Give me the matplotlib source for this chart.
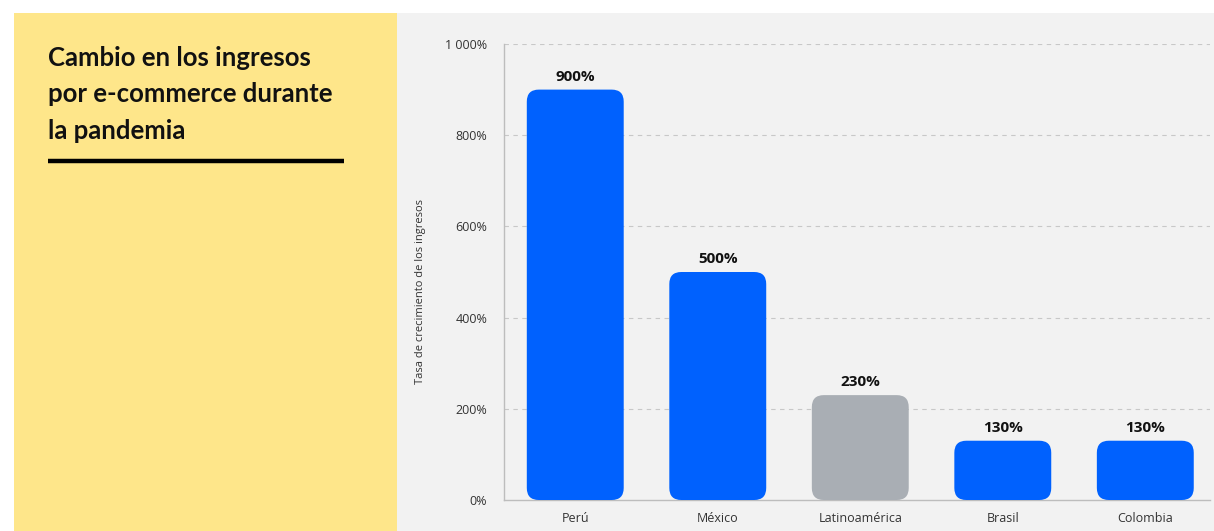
import matplotlib
matplotlib.use("Agg")
import matplotlib.pyplot as plt
from matplotlib.patches import FancyBboxPatch, Rectangle
from matplotlib.lines import Line2D

categories = ["Perú", "México", "Latinoamérica", "Brasil", "Colombia"]
values = [900, 500, 230, 130, 130]
value_labels = ["900%", "500%", "230%", "130%", "130%"]
bar_colors = ["#0061FE", "#0061FE", "#A9AEB4", "#0061FE", "#0061FE"]
yticks = [0, 200, 400, 600, 800, 1000]
ytick_labels = ["0%", "200%", "400%", "600%", "800%", "1 000%"]
title = "Cambio en los ingresos\npor e-commerce durante\nla pandemia"
ylabel = "Tasa de crecimiento de los ingresos"

W, H = 1214, 531
fig = plt.figure(figsize=(W / 100, H / 100), dpi=100)
fig.patch.set_facecolor("white")

# backgrounds
fig.patches.append(Rectangle((397 / W, 0), 1 - 397 / W, (H - 13) / H,
                             transform=fig.transFigure, facecolor="#F2F2F2",
                             edgecolor="none", zorder=-10))
fig.patches.append(Rectangle((14 / W, 0), (397 - 14) / W, (H - 13) / H,
                             transform=fig.transFigure, facecolor="#FEE68A",
                             edgecolor="none", zorder=-10))

fig.text(48 / W, 1 - 46 / H, title, fontsize=18.5, fontweight="bold",
         family="Lato", color="#111111", va="top", ha="left", linespacing=1.62)
fig.lines.append(Line2D([48 / W, 344 / W], [1 - 161 / H, 1 - 161 / H],
                        transform=fig.transFigure, color="black", linewidth=3.2,
                        solid_capstyle="butt", zorder=-5))

ax_l, ax_r, ax_t, ax_b = 504, 1210, 44, 500
ax = fig.add_axes([ax_l / W, 1 - ax_b / H, (ax_r - ax_l) / W, (ax_b - ax_t) / H])
ax.set_facecolor("none")
ax.set_xlim(-0.5, 4.454)
ax.set_ylim(0, 1000)

x = list(range(len(categories)))
bw = 0.68
px_x = (ax_r - ax_l) / (4.454 + 0.5)
px_y = (ax_b - ax_t) / 1000
r_px = 12
rs = r_px / px_x
aspect = px_x / px_y
for xi, v, c, lab in zip(x, values, bar_colors, value_labels):
    p = FancyBboxPatch((xi - bw / 2, 0), bw, v,
                       boxstyle=f"round,pad=0,rounding_size={rs}",
                       mutation_aspect=aspect, facecolor=c, edgecolor="none",
                       zorder=3)
    ax.add_patch(p)
    ax.text(xi, v + 13 / px_y, lab, ha="center", va="center", fontsize=11,
            fontweight="bold", family="Open Sans", color="#111111", zorder=4)

ax.set_yticks(yticks)
ax.set_yticklabels(ytick_labels, family="Open Sans", fontsize=9, color="#333333")
ax.set_xticks(x)
ax.set_xticklabels(categories, family="Open Sans", fontsize=9, color="#333333")
ax.tick_params(axis="both", length=0)
ax.tick_params(axis="y", pad=12)
ax.tick_params(axis="x", pad=9)
for yv in yticks[1:]:
    ax.axhline(yv, color="#C8C8C8", linewidth=0.8, linestyle=(0, (4, 4)), zorder=1)
for s in ["top", "right"]:
    ax.spines[s].set_visible(False)
for s in ["left", "bottom"]:
    ax.spines[s].set_color("#BDBDBD")
    ax.spines[s].set_linewidth(1.0)

fig.text(421 / W, 1 - 291 / H, ylabel, rotation=90, ha="center", va="center",
         fontsize=8, family="Open Sans", color="#333333")

fig.savefig("out.png", dpi=100, facecolor=fig.get_facecolor())
